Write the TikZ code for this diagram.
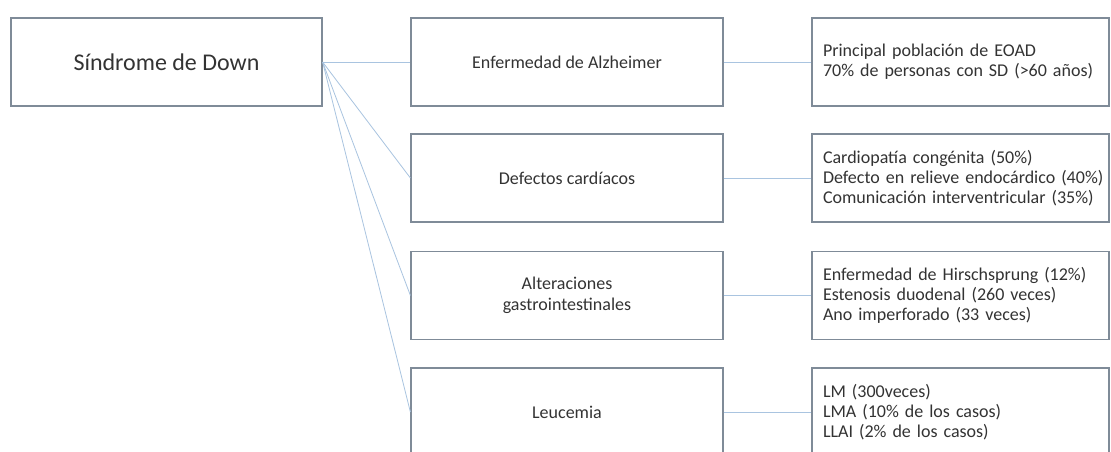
\documentclass[tikz,border=0pt]{standalone}
\usepackage{fontspec}
\setmainfont{Carlito}
\definecolor{boxline}{HTML}{7F8B98}
\definecolor{conn}{HTML}{A9C4E0}
\definecolor{txt}{HTML}{333333}
\tikzset{
  rootbox/.style={draw=boxline, line width=1.2pt, minimum width=311pt, minimum height=88pt, inner sep=0pt, text=txt, font=\fontsize{24}{28}\selectfont},
  midbox/.style={draw=boxline, line width=1.2pt, minimum width=312pt, minimum height=88pt, inner sep=0pt, align=center, text=txt, font=\fontsize{18}{21}\selectfont},
  infobox/.style={draw=boxline, line width=1.2pt, text width=275pt, minimum height=88pt, inner xsep=11pt, inner ysep=0pt, align=left, text=txt, font=\fontsize{18}{20}\selectfont},
  link/.style={draw=conn, line width=0.8pt}
}
\begin{document}
\begin{tikzpicture}[x=1pt,y=1pt]
\useasboundingbox (0,0) rectangle (1111,-451);
\clip (0,0) rectangle (1111,-451);
\fill[white] (0,0) rectangle (1111,-451);
\node[rootbox] (root) at (166.5,-62) {Síndrome de Down};
\node[midbox] (m1) at (567,-62) {Enfermedad de Alzheimer};
\node[midbox] (m2) at (567,-178) {Defectos cardíacos};
\node[midbox] (m3) at (567,-295.5) {Alteraciones\\gastrointestinales};
\node[midbox] (m4) at (567,-412) {Leucemia};
\node[infobox] (r1) at (960.5,-62) {\mbox{Principal población de EOAD}\\\mbox{70\% de personas con SD (>60 años)}};
\node[infobox] (r2) at (960.5,-178) {\mbox{Cardiopatía congénita (50\%)}\\\mbox{Defecto en relieve endocárdico (40\%)}\\\mbox{Comunicación interventricular (35\%)}};
\node[infobox] (r3) at (960.5,-295.5) {\mbox{Enfermedad de Hirschsprung (12\%)}\\\mbox{Estenosis duodenal (260 veces)}\\\mbox{Ano imperforado (33 veces)}};
\node[infobox] (r4) at (960.5,-412) {\mbox{LM (300veces)}\\\mbox{LMA (10\% de los casos)}\\\mbox{LLAI (2\% de los casos)}};
\foreach \m in {m1,m2,m3,m4} {\draw[link] (root.east) -- (\m.west);}
\draw[link] (m1.east) -- (r1.west);
\draw[link] (m2.east) -- (r2.west);
\draw[link] (m3.east) -- (r3.west);
\draw[link] (m4.east) -- (r4.west);
\end{tikzpicture}
\end{document}
